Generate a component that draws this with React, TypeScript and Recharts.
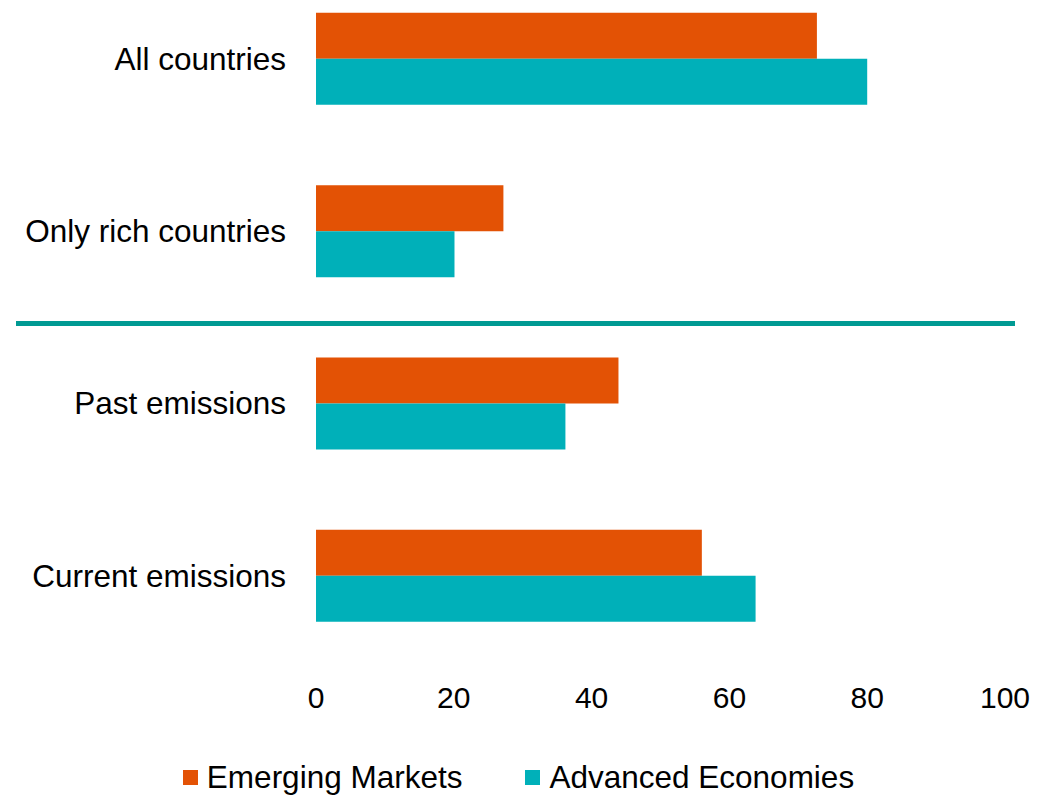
import React from 'react';
import { BarChart, Bar, XAxis, YAxis, Legend } from 'recharts';

const categories = ['All countries', 'Only rich countries', 'Past emissions', 'Current emissions'];
const emergingMarkets = [72.7, 27.2, 43.9, 56.0];
const advancedEconomies = [80.0, 20.1, 36.2, 63.8];
const xTicks = [0, 20, 40, 60, 80, 100];
const seriesNames = ['Emerging Markets', 'Advanced Economies'];

const FONT = '"Liberation Sans", Arial, sans-serif';
const ORANGE = '#E35205';
const TEAL = '#00B0B9';
const DIVIDER = '#009A93';
const seriesColors = [ORANGE, TEAL];

const renderLegend = () => (
  <div
    style={{
      display: 'flex',
      justifyContent: 'center',
      alignItems: 'center',
      height: 40,
      fontSize: 31.5,
      color: '#000',
      fontFamily: FONT,
    }}
  >
    {seriesNames.map((name, i) => (
      <div key={name} style={{ display: 'flex', alignItems: 'center', marginLeft: i ? 63 : 0 }}>
        <span style={{ width: 15, height: 15, background: seriesColors[i], marginRight: 9, display: 'inline-block' }} />
        <span style={{ lineHeight: '40px', whiteSpace: 'nowrap' }}>{name}</span>
      </div>
    ))}
  </div>
);

export default function App() {
  const data = categories.map((c, i) => ({ name: c, em: emergingMarkets[i], ae: advancedEconomies[i] }));
  return (
    <div
      style={{
        position: 'absolute',
        left: 0,
        top: 0,
        width: 1037,
        height: 795,
        overflow: 'hidden',
        background: '#fff',
        fontFamily: FONT,
      }}
    >
      <div style={{ position: 'absolute', left: 0, top: -40 }}>
        <BarChart
          width={1037}
          height={880}
          data={data}
          layout="vertical"
          margin={{ top: 12.3, right: 32, left: 0, bottom: 78.3 }}
          barCategoryGap="23.5%"
          barGap={0}
        >
          <XAxis
            type="number"
            domain={[0, 100]}
            ticks={xTicks}
            interval={0}
            axisLine={false}
            tickLine={false}
            tickSize={0}
            tickMargin={25}
            height={60}
            tick={{ fill: '#000', fontSize: 30, fontFamily: FONT }}
          />
          <YAxis
            type="category"
            dataKey="name"
            width={316}
            interval={0}
            axisLine={false}
            tickLine={false}
            tickSize={0}
            tickMargin={30}
            tick={{ fill: '#000', fontSize: 31.5, fontFamily: FONT }}
          />
          <Bar dataKey="em" name={seriesNames[0]} fill={ORANGE} isAnimationActive={false} />
          <Bar dataKey="ae" name={seriesNames[1]} fill={TEAL} isAnimationActive={false} />
          <Legend
            verticalAlign="bottom"
            content={renderLegend}
            wrapperStyle={{ top: 797, bottom: 'auto', left: 0, width: 1037 }}
          />
        </BarChart>
      </div>
      {/* divider between the two groups of questions */}
      <div
        style={{
          position: 'absolute',
          left: 15.5,
          top: 320.5,
          width: 999.5,
          height: 5,
          background: DIVIDER,
        }}
      />
    </div>
  );
}
